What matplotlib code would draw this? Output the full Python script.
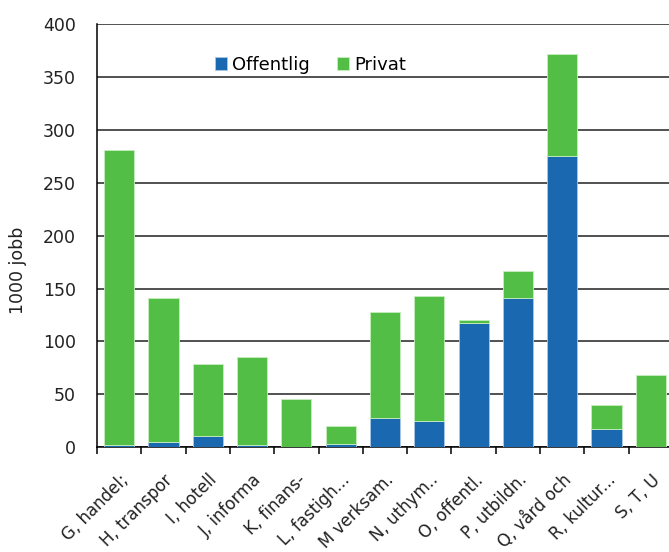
import matplotlib
matplotlib.use("Agg")
import matplotlib.pyplot as plt
import numpy as np

plt.rcParams['font.family'] = ['DejaVu Sans']

# get data
categories = ["G, handel;", "H, transpor", "I, hotell", "J, informa", "K, finans-",
              "L, fastigh...", "M verksam.", "N, uthym..", "O, offentl.",
              "P, utbildn.", "Q, vård och", "R, kultur...", "S, T, U"]
totals = [281, 141, 79, 85, 46, 20, 128, 143, 120, 167, 372, 40, 68]
offentlig = [2, 5, 11, 2, 0, 3, 28, 25, 117, 141, 275, 17, 0]
privat = [t - o for t, o in zip(totals, offentlig)]

blue = "#1a68b0"
green = "#53be45"
txt = "#222222"

fig = plt.figure(figsize=(6.69, 5.52), dpi=100)
ax = fig.add_axes([97 / 669, 1 - 447.3 / 552, 576 / 669, 423.3 / 552])

x = np.arange(len(categories))
ax.bar(x, offentlig, width=0.68, color=blue, edgecolor="#a9c8e6", linewidth=0.6,
       label="Offentlig", zorder=3)
ax.bar(x, privat, width=0.68, bottom=offentlig, color=green, edgecolor="#c6efc0",
       linewidth=0.6, label="Privat", zorder=3)

ax.set_xlim(-0.5, len(categories) - 0.5)
ax.set_ylim(0, 400)
ax.set_yticks(np.arange(0, 401, 50))
ax.grid(axis="y", color="#222222", linewidth=1.1, zorder=0)
ax.set_axisbelow(True)

for s in ["top", "right"]:
    ax.spines[s].set_visible(False)
ax.spines["left"].set_linewidth(1.1)
ax.spines["bottom"].set_linewidth(1.1)

ax.tick_params(axis="y", length=0, pad=15, labelsize=12.5, labelcolor=txt)
ax.set_xticks(x - 0.5)
ax.set_xticklabels([])
ax.set_xticks(x, minor=True)
ax.set_xticklabels(categories, minor=True, rotation=45, ha="right",
                   rotation_mode="anchor", fontsize=12, color=txt)
ax.tick_params(axis="x", which="major", length=5, width=1.1, direction="out")
ax.tick_params(axis="x", which="minor", length=0, pad=17)

ax.set_ylabel("1000 jobb", fontsize=12.5, color=txt)
ax.yaxis.set_label_coords(-0.122, 0.419)

ax.legend(loc="center left", bbox_to_anchor=(0.176, 0.903), ncol=2, frameon=False,
          fontsize=13, handlelength=0.7, handleheight=0.7, handletextpad=0.25,
          columnspacing=1.5)

fig.savefig("out.png", dpi=100)
